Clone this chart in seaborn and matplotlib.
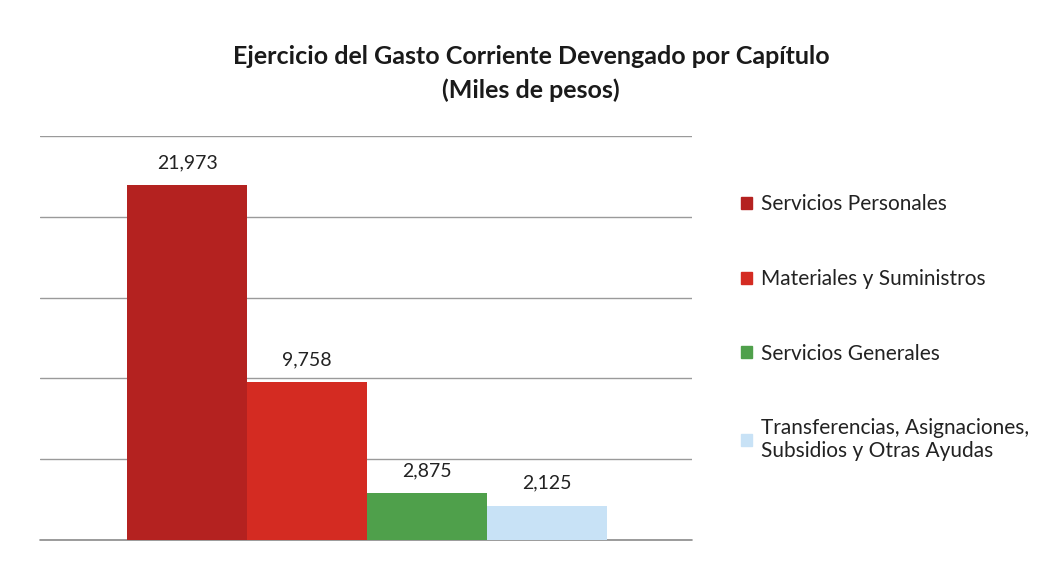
import matplotlib
matplotlib.use("Agg")
import matplotlib.pyplot as plt
import seaborn as sns
import pandas as pd

# chart data
capitulos = [
    "Servicios Personales",
    "Materiales y Suministros",
    "Servicios Generales",
    "Transferencias, Asignaciones,\nSubsidios y Otras Ayudas",
]
montos = [21973, 9758, 2875, 2125]
etiquetas = ["21,973", "9,758", "2,875", "2,125"]
colores = ["#B42220", "#D42B22", "#4FA04B", "#C8E2F6"]

sns.set_style("white")
plt.rcParams["font.family"] = ["Lato", "DejaVu Sans"]

df = pd.DataFrame({"capitulo": capitulos, "monto": montos})

fig = plt.figure(figsize=(10.41, 5.63), dpi=100)
ax = fig.add_axes([0.038, 0.041, 0.627, 0.717])

sns.barplot(data=df, x="capitulo", y="monto", hue="capitulo",
            palette=colores, width=1.0, legend=False, ax=ax,
            saturation=1, edgecolor="none")

ax.set_ylim(0, 25000)
ax.set_xlim(-1.23, 4.21)
ax.set_yticks(range(0, 25001, 5000))
ax.yaxis.grid(True, color="#9a9a9a", linewidth=1.0)
ax.axhline(0, color="#8a8a8a", linewidth=1.2, clip_on=False, zorder=0)
ax.set_axisbelow(True)
ax.set_xticks([])
ax.set_yticklabels([])
ax.tick_params(left=False, bottom=False)
ax.set_xlabel("")
ax.set_ylabel("")
for s in ax.spines.values():
    s.set_visible(False)

for i, (v, t) in enumerate(zip(montos, etiquetas)):
    ax.annotate(t, (i, v), xytext=(0, 10), textcoords="offset points",
                ha="center", va="bottom", fontsize=14, color="#222222")

fig.text(0.51, 0.900, "Ejercicio del Gasto Corriente Devengado por Capítulo",
         ha="center", va="center", fontsize=18, fontweight="bold", color="#1a1a1a")
fig.text(0.51, 0.840, "(Miles de pesos)",
         ha="center", va="center", fontsize=18, fontweight="bold", color="#1a1a1a")

handles = [plt.Rectangle((0, 0), 1, 1, color=c) for c in colores]
leg = fig.legend(handles, capitulos, loc="upper left",
                 bbox_to_anchor=(0.694, 0.688), frameon=False,
                 fontsize=15, labelspacing=2.62, handlelength=0.5,
                 handleheight=0.5, handletextpad=0.45)
for t in leg.get_texts():
    t.set_color("#222222")

fig.savefig("out.png", dpi=100, facecolor="white")
